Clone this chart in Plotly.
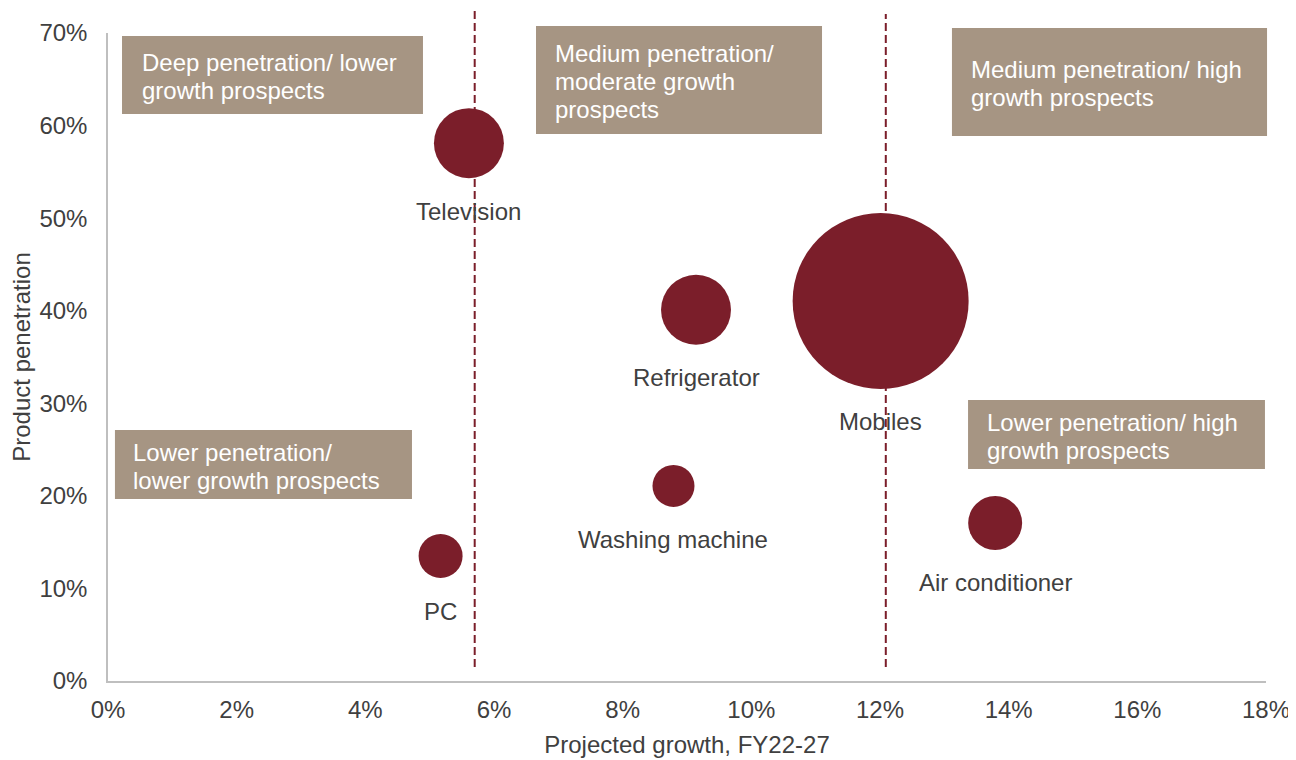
import plotly.graph_objects as go
import math

# ---- data ----
products = ["Television", "Refrigerator", "Mobiles", "Washing machine", "PC", "Air conditioner"]
projected_growth = [0.0561, 0.0914, 0.1201, 0.0879, 0.0517, 0.1379]
penetration = [0.581, 0.401, 0.4105, 0.2107, 0.135, 0.1707]
bubble_size = [15.8, 15.8, 100.0, 5.7, 6.25, 9.4]

# quadrant dividers (growth value) and their vertical extent (penetration units)
divider_growth = [0.057, 0.1209]
divider_top = [0.728, 0.7205]
divider_bottom = [0.015, 0.015]

x_ticks = [0, 0.02, 0.04, 0.06, 0.08, 0.10, 0.12, 0.14, 0.16, 0.18]
y_ticks = [0, 0.1, 0.2, 0.3, 0.4, 0.5, 0.6, 0.7]

quadrant_lines = [
    ["Deep penetration/ lower", "growth prospects"],
    ["Medium penetration/", "moderate growth", "prospects"],
    ["Medium penetration/ high", "growth prospects"],
    ["Lower penetration/", "lower growth prospects"],
    ["Lower penetration/ high", "growth prospects"],
]

# ---- styling ----
X_MAX, Y_MAX = 0.18, 0.70
BUBBLE = "#7B1E2A"
BOX = "#A69583"
TXT = "#404040"
FONT = "Liberation Sans, Arial, sans-serif"
FS = 24
MAX_D = 176
sizeref = 2.0 * max(bubble_size) / (MAX_D ** 2)

# box geometry in paper coords: x0, x1, y0, y1, text-left
boxes = [
    (0.0121, 0.2720, 0.8750, 0.9954, 0.0302),
    (0.3696, 0.6166, 0.8441, 1.0108, 0.3869),
    (0.7288, 1.0009, 0.8410, 1.0077, 0.7461),
    (0.0060, 0.2625, 0.2809, 0.3873, 0.0225),
    (0.7427, 0.9991, 0.3272, 0.4336, 0.7599),
]
PLOT_H = 648
LINE_GAP = 28

fig = go.Figure()

fig.add_trace(go.Scatter(
    x=projected_growth, y=penetration, mode="markers",
    marker=dict(size=bubble_size, sizemode="area", sizeref=sizeref,
                color=BUBBLE, line=dict(width=0), opacity=1),
    cliponaxis=False, hoverinfo="text", text=products, showlegend=False,
))

shapes = []
for g, top, bot in zip(divider_growth, divider_top, divider_bottom):
    shapes.append(dict(type="line", xref="x", yref="paper", x0=g, x1=g,
                       y0=bot / Y_MAX, y1=top / Y_MAX, layer="below",
                       line=dict(color=BUBBLE, width=2, dash="8px,4px")))
for (x0, x1, y0, y1, tx) in boxes:
    shapes.append(dict(type="rect", xref="paper", yref="paper", x0=x0, x1=x1,
                       y0=y0, y1=y1, fillcolor=BOX, line=dict(width=0), layer="above"))

annotations = []
for (x0, x1, y0, y1, tx), lines in zip(boxes, quadrant_lines):
    yc = (y0 + y1) / 2 - 1.5 / PLOT_H
    n = len(lines)
    for i, ln in enumerate(lines):
        off = (i - (n - 1) / 2) * LINE_GAP
        annotations.append(dict(xref="paper", yref="paper", x=tx, y=yc - off / PLOT_H,
                                text=ln, showarrow=False, xanchor="left", yanchor="middle",
                                xshift=-3,
                                font=dict(family=FONT, size=FS, color="white")))

for name, gx, py, s in zip(products, projected_growth, penetration, bubble_size):
    r = math.sqrt(s / (2 * sizeref))
    annotations.append(dict(xref="x", yref="y", x=gx, y=py, text=name, showarrow=False,
                            xanchor="center", yanchor="middle", yshift=-(r + 33),
                            font=dict(family=FONT, size=FS, color=TXT)))

# the page body adds an 8px offset, so the figure is 8px smaller and margins shifted
fig.update_layout(
    width=1288, height=752,
    margin=dict(l=100, r=30, t=25, b=79, autoexpand=False),
    paper_bgcolor="white", plot_bgcolor="white",
    font=dict(family=FONT, size=FS, color=TXT),
    shapes=shapes, annotations=annotations, showlegend=False,
    xaxis=dict(range=[0, X_MAX], tickvals=x_ticks, tickformat=".0%", automargin=False,
               showgrid=False, zeroline=False, showline=True, linecolor="#BFBFBF",
               linewidth=1.5, ticks="", ticklabelstandoff=6,
               tickfont=dict(family=FONT, size=FS, color=TXT),
               title=dict(text="Projected growth, FY22-27", standoff=15,
                          font=dict(family=FONT, size=FS, color=TXT))),
    yaxis=dict(range=[0, Y_MAX], tickvals=y_ticks, tickformat=".0%", automargin=False,
               showgrid=False, zeroline=False, showline=True, linecolor="#BFBFBF",
               linewidth=1.5, ticks="", ticklabelstandoff=14,
               tickfont=dict(family=FONT, size=FS, color=TXT),
               title=dict(text="Product penetration", standoff=8,
                          font=dict(family=FONT, size=FS, color=TXT))),
)

fig.write_html("out.html")
